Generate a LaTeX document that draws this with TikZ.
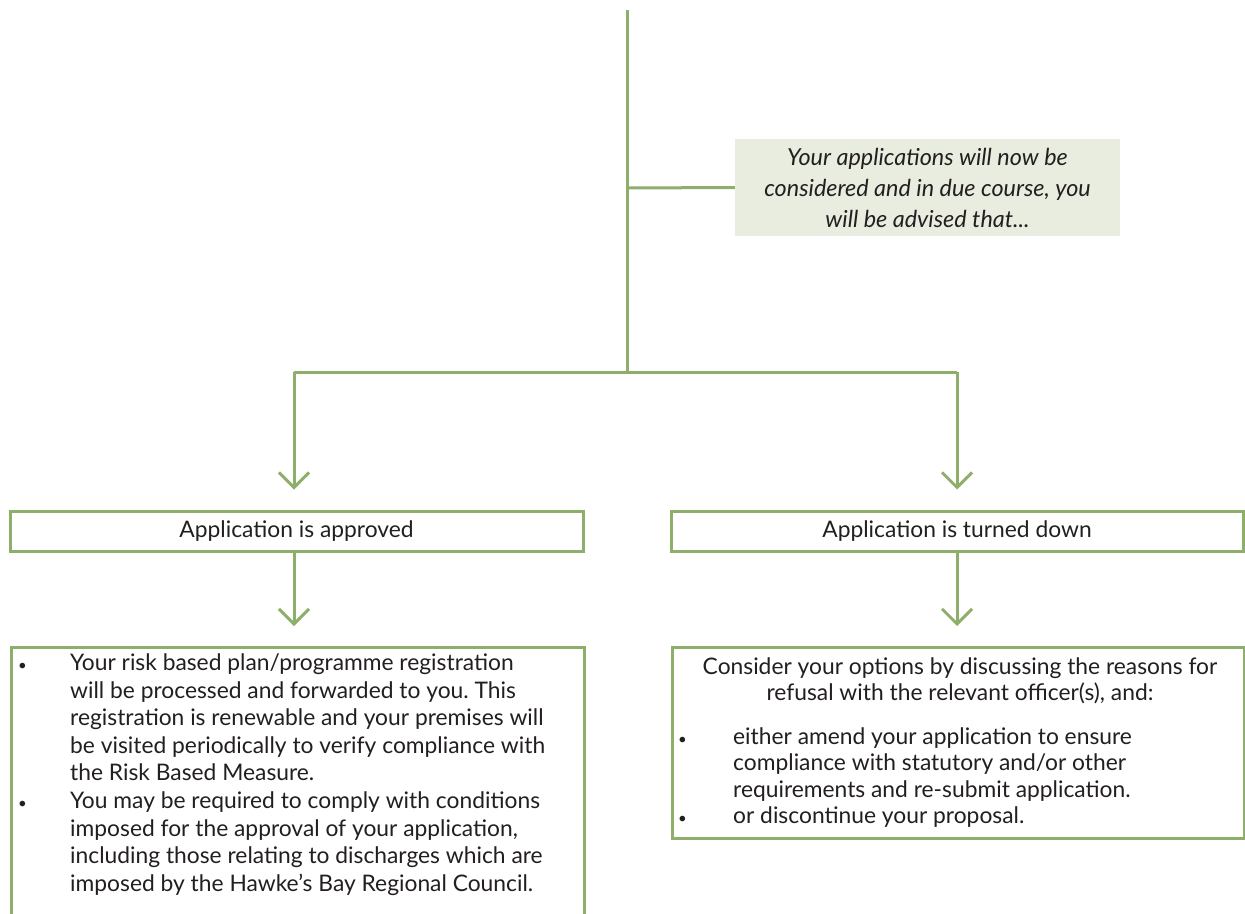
\documentclass[tikz,border=0pt]{standalone}
\usepackage{fontspec}
\setmainfont{Lato}
\usetikzlibrary{arrows.meta}
\definecolor{lgreen}{HTML}{8DAF6B}
\definecolor{notefill}{HTML}{E8EDE0}
\definecolor{txt}{HTML}{231F20}
\newcommand{\smbullet}{{\fontsize{15}{15}\selectfont\textbullet}}
\frenchspacing
\begin{document}
\begin{tikzpicture}[x=1pt,y=-1pt,
  font=\fontsize{22.8}{27.6}\selectfont, text=txt,
  link/.style={draw=lgreen,line width=3pt},
  arr/.style={link,-{Straight Barb[length=15pt,width=30pt]},shorten >=20pt},
  frame/.style={draw=lgreen,line width=3pt,inner sep=0pt},
  notebox/.style={fill=notefill,inner sep=0pt,align=center,
    font=\fontsize{23.4}{31}\selectfont\itshape},
  plain/.style={inner sep=0pt}]
\useasboundingbox (0,0) rectangle (1245,913);
\fill[white] (0,0) rectangle (1245,913);

% coordinates of the connector skeleton
\coordinate (top) at (627,10);
\coordinate (jn) at (627,188);
\coordinate (j) at (627,372);
\coordinate (jl) at (294,372);
\coordinate (jr) at (957,372);

% note
\node[notebox,minimum width=385pt,minimum height=97pt] (note) at (927.5,187.5)
  {Your applications will now be\\considered and in due course, you\\will be advised that...};

% decision boxes
\node[frame,minimum width=573pt,minimum height=40pt] (appr) at (296.5,531) {Application is approved};
\node[frame,minimum width=572pt,minimum height=40pt] (down) at (957,531) {Application is turned down};

% detail boxes
\node[frame,anchor=north west,minimum width=573pt,minimum height=290pt] (apdet) at (10,646) {};
\node[frame,anchor=north west,minimum width=572pt,minimum height=191pt] (dndet) at (671,646) {};

\node[plain,anchor=north west] (aptext) at (18,651) {%
\begin{tabular}{@{}p{52pt}@{}l@{}}
\smbullet & Your risk based plan/programme registration\\
 & will be processed and forwarded to you. This\\
 & registration is renewable and your premises will\\
 & be visited periodically to verify compliance with\\
 & the Risk Based Measure.\\
\smbullet & You may be required to comply with conditions\\
 & imposed for the approval of your application,\\
 & including those relating to discharges which are\\
 & imposed by the Hawke’s Bay Regional Council.
\end{tabular}};

\node[plain,align=center,font=\fontsize{22.8}{26}\selectfont] (dnhead) at (960,681)
  {Consider your options by discussing the reasons for\\refusal with the relevant officer(s), and:};
\node[plain,anchor=north west,font=\fontsize{22.8}{26.3}\selectfont] (dnlist) at (678,726) {%
\begin{tabular}{@{}p{55pt}@{}l@{}}
\smbullet & either amend your application to ensure\\
 & compliance with statutory and/or other\\
 & requirements and re-submit application.\\
\smbullet & or discontinue your proposal.
\end{tabular}};

% connectors
\draw[link] (top) -- (j);
\draw[link] (jn) -- (note.west);
\draw[link] (jl) -- (jr);
\draw[arr] (jl) -- (jl |- appr.north);
\draw[arr] (jr) -- (jr |- down.north);
\draw[arr] (appr.south -| jl) -- (apdet.north -| jl);
\draw[arr] (down.south -| jr) -- (dndet.north -| jr);
\end{tikzpicture}
\end{document}
